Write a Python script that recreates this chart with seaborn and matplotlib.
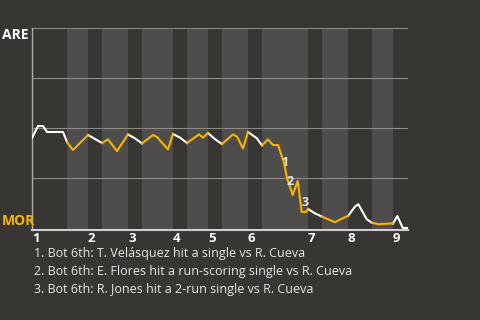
import matplotlib
matplotlib.use("Agg")
import matplotlib.pyplot as plt
import seaborn as sns
import pandas as pd

# ---------------- data ----------------
innings = ["1", "2", "3", "4", "5", "6", "7", "8", "9"]
# game progress units (plate-appearance based) where each inning / bottom half starts
inning_starts = [0, 56, 96, 141, 176, 216, 276, 316, 361]
bottom_starts = [35, 70, 110, 155, 190, 230, 290, 340]
game_end = 376

progress = [0, 6, 11, 15, 31, 35, 41, 56, 70, 76, 85, 96, 103, 110, 121, 125, 136,
            141, 148, 155, 167, 171, 176, 183, 190, 201, 205, 211, 216, 225, 230,
            236, 241, 246, 251.5, 255, 260.7, 265.7, 269.7, 274, 276, 283, 290,
            303, 313, 316, 323, 326.3, 334.7, 340, 346.3, 359.7, 361, 365.3, 370.8, 376]
are_wp = [45, 51, 51, 48, 48, 43, 39, 46.5, 42.5, 44.3, 38.5, 46.8, 44.8, 42.3, 46.5,
          45.5, 39.3, 47, 45.2, 42.5, 46.8, 45.2, 47.5, 44.4, 42, 46.8, 45.7, 39.8,
          48, 44.8, 41.3, 44.3, 41.5, 41.5, 33.5, 25, 16.5, 23.5, 8, 8, 9.5, 7.3,
          5.7, 2.9, 5.4, 6, 10.7, 11.9, 4.4, 2.6, 1.9, 2.3, 2.2, 6, 0, 0]

event_nums = ["1", "2", "3"]
event_x = [252.5, 258, 273]
event_y = [32.8, 23.2, 12.5]
event_texts = [
    "1. Bot 6th: T. Velásquez hit a single vs R. Cueva",
    "2. Bot 6th: E. Flores hit a run-scoring single vs R. Cueva",
    "3. Bot 6th: R. Jones hit a 2-run single vs R. Cueva",
]
teams = ["ARE", "MOR"]

# ---------------- style ----------------
BG = "#383632"
BAND = "#4e4d4b"
YEL = "#f7b500"
TXT = "#e8e8e8"
plt.rcParams["font.family"] = ["Open Sans", "DejaVu Sans"]

# build segments per half inning
bounds = sorted(inning_starts + bottom_starts + [game_end])
rows = []
for i in range(len(bounds) - 1):
    a, b = bounds[i], bounds[i + 1]
    team = teams[0] if a in inning_starts else teams[1]
    for x, y in zip(progress, are_wp):
        if a <= x <= b:
            rows.append({"x": x, "wp": y, "seg": i, "team": team})
df = pd.DataFrame(rows)

fig = plt.figure(figsize=(4.8, 3.2), dpi=100, facecolor=BG)
ax = fig.add_axes([32 / 480, 1 - 230 / 320, 376 / 480, 202 / 320])
ax.set_facecolor(BG)

ends = inning_starts[1:] + [game_end]
for s, e in zip(bottom_starts, ends):
    ax.axvspan(s, e, color=BAND, lw=0, zorder=0)

for yv in [25, 50, 75, 100]:
    ax.axhline(yv, color="#8c8b88", lw=0.8, zorder=1)

sns.lineplot(data=df, x="x", y="wp", hue="team", units="seg", estimator=None,
             palette={"ARE": "white", "MOR": YEL}, legend=False, sort=False,
             linewidth=1.5, ax=ax, zorder=3)

for n, x, y in zip(event_nums, event_x, event_y):
    ax.text(x, y, n, color=TXT, fontsize=9, fontweight="bold", ha="center",
            va="center", zorder=4)

ax.set_xlim(0, game_end)
ax.set_ylim(-1, 100)
ax.set_xticks(inning_starts)
ax.set_xticklabels(innings, ha="left", color="white", fontsize=9.5, fontweight="bold")
ax.tick_params(axis="x", length=0, pad=1.5)
ax.set_yticks([])
ax.set_xlabel("")
ax.set_ylabel("")
for side in ["top", "right"]:
    ax.spines[side].set_visible(False)
ax.spines["left"].set_color("#b0afac")
ax.spines["left"].set_linewidth(1)
ax.spines["bottom"].set_color("#d0d0d0")
ax.spines["bottom"].set_linewidth(1.5)

fig.text(2 / 480, 1 - 35 / 320, teams[0], color="white", fontsize=10,
         fontweight="bold", ha="left", va="center")
fig.text(2 / 480, 1 - 221 / 320, teams[1], color=YEL, fontsize=10,
         fontweight="bold", ha="left", va="center")

for i, t in enumerate(event_texts):
    fig.text(34 / 480, 1 - (254 + 18 * i) / 320, t, color=TXT, fontsize=9,
             ha="left", va="center")

fig.savefig("out.png", dpi=100, facecolor=BG)
